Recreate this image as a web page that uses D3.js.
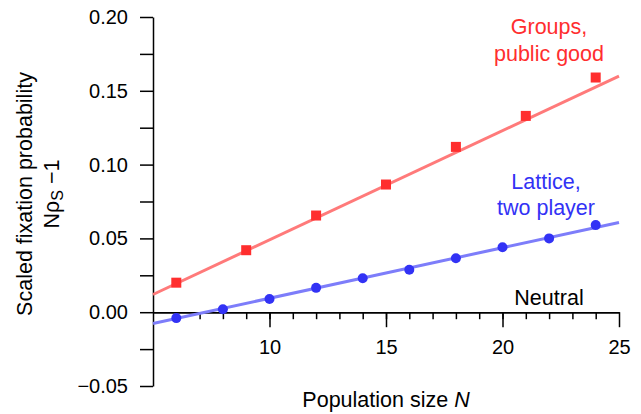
<!DOCTYPE html>
<html>
<head>
<meta charset="utf-8">
<script src="https://cdn.jsdelivr.net/npm/d3@7"></script>
<style>
  body { margin: 0; background: #fff; }
  text { font-family: "Liberation Sans", Arial, Helvetica, sans-serif; }
</style>
</head>
<body>
<div id="chart"></div>
<script>
// data
var groupsN = [6, 9, 12, 15, 18, 21, 24];
var groupsVal = [0.020, 0.042, 0.0655, 0.0865, 0.112, 0.133, 0.159];
var latticeN = [6, 8, 10, 12, 14, 16, 18, 20, 22, 24];
var latticeVal = [-0.004, 0.002, 0.009, 0.0165, 0.023, 0.0287, 0.0366, 0.044, 0.050, 0.059];
// fitted lines (end points)
var groupsFitN = [5, 25];
var groupsFitVal = [0.012, 0.160];
var latticeFitN = [5, 25];
var latticeFitVal = [-0.0077, 0.0608];
var xMajor = [10, 15, 20, 25];
var xMinor = d3.range(6, 25);
var yMajor = [-0.05, 0, 0.05, 0.10, 0.15, 0.20];
var yMinor = d3.range(-0.05, 0.2001, 0.025);

var W = 641, H = 414;
var svg = d3.select("#chart").append("svg")
  .attr("width", W).attr("height", H);

var x = d3.scaleLinear().domain([5, 25]).range([153, 619]);
var y = d3.scaleLinear().domain([-0.05, 0.20]).range([386, 17]);

var red = "#ff2e2e", redLine = "#ff7a7a";
var blue = "#3232f5", blueLine = "#7d7dfa";
var tickFont = "20px", labFont = "21.5px";

// y axis
var yAxis = svg.append("g")
  .attr("transform", "translate(" + x(5) + ",0)")
  .call(d3.axisLeft(y)
    .tickValues(yMinor)
    .tickSize(13)
    .tickSizeOuter(0)
    .tickPadding(12)
    .tickFormat(function(d) {
      var major = yMajor.some(function(m) { return Math.abs(m - d) < 1e-6; });
      if (!major) return "";
      return d3.format(".2f")(d).replace("-", "\u2212");
    }));
yAxis.selectAll("text").style("font-size", tickFont).attr("fill", "#000");

// x axis at y = 0 (minor + major ticks)
svg.append("g")
  .attr("transform", "translate(0," + y(0) + ")")
  .call(d3.axisBottom(x).tickValues(xMinor).tickSize(7).tickSizeOuter(0).tickFormat(""));
var xMajorAxis = svg.append("g")
  .attr("transform", "translate(0," + y(0) + ")")
  .call(d3.axisBottom(x).tickValues(xMajor).tickSize(15).tickSizeOuter(0).tickPadding(13));
xMajorAxis.selectAll("text").style("font-size", tickFont).attr("fill", "#000");
svg.selectAll("g line, g path").attr("stroke", "#000").attr("stroke-width", 1.5);

// fit lines
var line = d3.line().x(function(d) { return x(d[0]); }).y(function(d) { return y(d[1]); });
svg.append("path")
  .attr("d", line(d3.zip(groupsFitN, groupsFitVal)))
  .attr("fill", "none").attr("stroke", redLine).attr("stroke-width", 3);
svg.append("path")
  .attr("d", line(d3.zip(latticeFitN, latticeFitVal)))
  .attr("fill", "none").attr("stroke", blueLine).attr("stroke-width", 3);

// markers
var sq = 10;
svg.selectAll(".sq")
  .data(d3.zip(groupsN, groupsVal))
  .enter().append("rect")
  .attr("x", function(d) { return x(d[0]) - sq / 2; })
  .attr("y", function(d) { return y(d[1]) - sq / 2; })
  .attr("width", sq).attr("height", sq)
  .attr("fill", red);
svg.selectAll(".dot")
  .data(d3.zip(latticeN, latticeVal))
  .enter().append("circle")
  .attr("cx", function(d) { return x(d[0]); })
  .attr("cy", function(d) { return y(d[1]); })
  .attr("r", 5)
  .attr("fill", blue);

// series labels
function label(lines, cx, y0, gap, color) {
  var t = svg.append("text")
    .attr("text-anchor", "middle")
    .attr("fill", color)
    .style("font-size", labFont);
  lines.forEach(function(s, i) {
    t.append("tspan").attr("x", cx).attr("y", y0 + i * gap).text(s);
  });
}
label(["Groups,", "public good"], 549, 34, 27, red);
label(["Lattice,", "two player"], 546, 189, 26, blue);
label(["Neutral"], 549, 305, 0, "#000");

// axis titles
var xt = svg.append("text")
  .attr("x", 386).attr("y", 407)
  .attr("text-anchor", "middle")
  .style("font-size", labFont);
xt.append("tspan").text("Population size ");
xt.append("tspan").style("font-style", "italic").text("N");

var yt = svg.append("text")
  .attr("transform", "translate(0,194) rotate(-90)")
  .attr("text-anchor", "middle")
  .style("font-size", labFont);
yt.append("tspan").attr("x", 0).attr("y", 32).text("Scaled fixation probability");
var l2 = svg.append("text")
  .attr("transform", "translate(0,194) rotate(-90)")
  .attr("text-anchor", "middle")
  .style("font-size", labFont);
l2.append("tspan").attr("x", 0).attr("y", 59).text("N\u03c1");
l2.append("tspan").attr("dy", 4).style("font-size", "16px").text("S");
l2.append("tspan").attr("dy", -4).text(" \u22121");
</script>
</body>
</html>
